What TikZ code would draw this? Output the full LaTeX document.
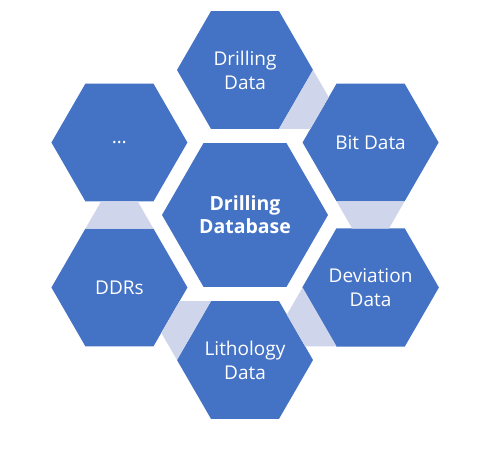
\documentclass[tikz,border=0pt]{standalone}
\usepackage{fontspec}
\setmainfont{Open Sans}
\usetikzlibrary{shapes.geometric,calc}
\definecolor{hexBlue}{HTML}{4472C4}
\definecolor{hexLink}{HTML}{CFD5EA}

\begin{document}
\begin{tikzpicture}[x=1pt,y=1pt,
    font=\fontsize{19}{24}\selectfont,
    hexcell/.style={regular polygon,regular polygon sides=6,
                    minimum size=136pt,inner sep=0pt,
                    fill=hexBlue,text=white,align=center},
    hexlink/.style={fill=hexLink}]
  \useasboundingbox (0,0) rectangle (492,457);
  \node[hexcell,minimum size=166pt,font=\fontsize{19.5}{23}\selectfont\bfseries]
    (db) at (245,242) {Drilling\\Database};
  \node[hexcell] (dd)   at ($(db)+(90:145pt)$)   {Drilling\\Data};
  \node[hexcell] (bit)  at ($(db)+(30:145pt)$)   {Bit Data};
  \node[hexcell] (dev)  at ($(db)+(-30:145pt)$)  {Deviation\\Data};
  \node[hexcell] (lith) at ($(db)+(-90:145pt)$)  {Lithology\\Data};
  \node[hexcell] (ddr)  at ($(db)+(-150:145pt)$) {DDRs};
  \node[hexcell] (more) at ($(db)+(150:145pt)$)  {\dots};
  % links between neighbouring cells
  \foreach \a/\b/\d in {dd/bit/-30,bit/dev/-90,dev/lith/-150,lith/ddr/150,ddr/more/90}
    \fill[hexlink] ($(\a)+(\d+30:68pt)$)
      -- ($(\b)+(\d+150:68pt)+(\d-90:15.7pt)$)
      -- ($(\b)+(\d-150:68pt)+(\d+90:15.7pt)$)
      -- ($(\a)+(\d-30:68pt)$) -- cycle;
\end{tikzpicture}
\end{document}
